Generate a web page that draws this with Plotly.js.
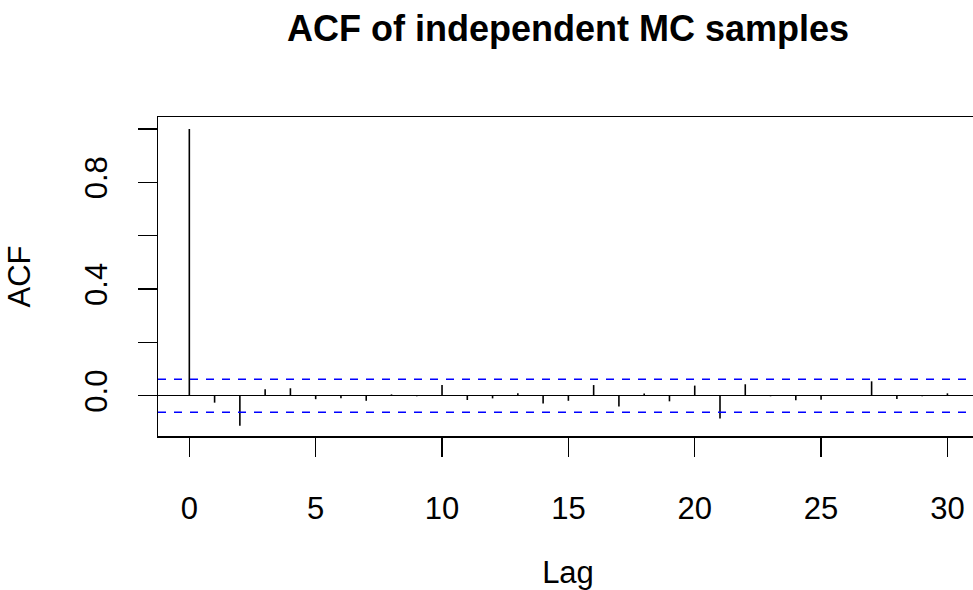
<!DOCTYPE html>
<html>
<head>
<meta charset="utf-8">
<script src="https://cdn.plot.ly/plotly-3.0.1.min.js"></script>
<style>
html, body { margin: 0; padding: 0; overflow: hidden; background: #fff; }
#chart { width: 980px; height: 590px; }
</style>
</head>
<body>
<div id="chart"></div>
<script>
// Data
const lags = [0,1,2,3,4,5,6,7,8,9,10,11,12,13,14,15,16,17,18,19,20,21,22,23,24,25,26,27,28,29,30];
const acfValues = [1.0, -0.026, -0.113, 0.024, 0.028, -0.013, -0.009, -0.019, 0.005, -0.002,
                   0.040, -0.016, -0.010, 0.009, -0.029, -0.019, 0.040, -0.040, 0.008, -0.021,
                   0.038, -0.085, 0.043, -0.002, -0.017, -0.015, 0.002, 0.054, -0.012, -0.002, 0.009];
const ciBound = 0.062;
const xTickVals = [0, 5, 10, 15, 20, 25, 30];
const yTickVals = [0, 0.2, 0.4, 0.6, 0.8, 1.0];
const yTickText = ['0.0', '', '0.4', '', '0.8', ''];

// Build vertical spikes from the data
const spikeX = [], spikeY = [];
lags.forEach((l, i) => { spikeX.push(l, l, null); spikeY.push(0, acfValues[i], null); });

const xRange = [-1.24, 31.21];
const FONT = 'Liberation Sans, Arial, Helvetica, sans-serif';
const AX = 31;

const traces = [
  { x: spikeX, y: spikeY, type: 'scatter', mode: 'lines',
    line: { color: '#000', width: 1.6 }, hoverinfo: 'skip', showlegend: false },
  { x: xRange, y: [ciBound, ciBound], type: 'scatter', mode: 'lines',
    line: { color: '#0000ff', width: 1.5, dash: '8px,8px' }, showlegend: false },
  { x: xRange, y: [-ciBound, -ciBound], type: 'scatter', mode: 'lines',
    line: { color: '#0000ff', width: 1.5, dash: '8px,8px' }, showlegend: false }
];

const layout = {
  width: 980, height: 590,
  margin: { l: 158, r: 2, t: 117, b: 154 },
  paper_bgcolor: '#fff', plot_bgcolor: '#fff',
  font: { family: FONT, color: '#000', size: AX },
  title: { text: '<b>ACF of independent MC samples</b>', font: { family: FONT, size: 36, color: '#000' },
           x: 0.5, xref: 'paper', y: 0.952, yref: 'container', yanchor: 'middle' },
  xaxis: {
    range: xRange, tickvals: xTickVals, ticktext: xTickVals.map(String),
    ticks: 'outside', ticklen: 19, tickwidth: 1.5, tickcolor: '#000',
    showline: true, linecolor: '#000', linewidth: 1.5, mirror: true,
    showgrid: false, zeroline: false, ticklabelstandoff: 25,
    tickfont: { family: FONT, size: AX, color: '#000' },
    title: { text: 'Lag', font: { family: FONT, size: AX, color: '#000' }, standoff: 41 }
  },
  yaxis: {
    range: [-0.151, 1.045], tickvals: yTickVals, ticktext: yTickText, tickangle: -90,
    ticks: 'outside', ticklen: 19, tickwidth: 1.5, tickcolor: '#000',
    showline: true, linecolor: '#000', linewidth: 1.5, mirror: true,
    showgrid: false, zeroline: true, zerolinecolor: '#000', zerolinewidth: 1.5,
    ticklabelstandoff: 18,
    tickfont: { family: FONT, size: AX, color: '#000' },
    title: { text: 'ACF', font: { family: FONT, size: AX, color: '#000' }, standoff: 39 }
  }
};

Plotly.newPlot('chart', traces, layout, { displayModeBar: false, staticPlot: true });
</script>
</body>
</html>
